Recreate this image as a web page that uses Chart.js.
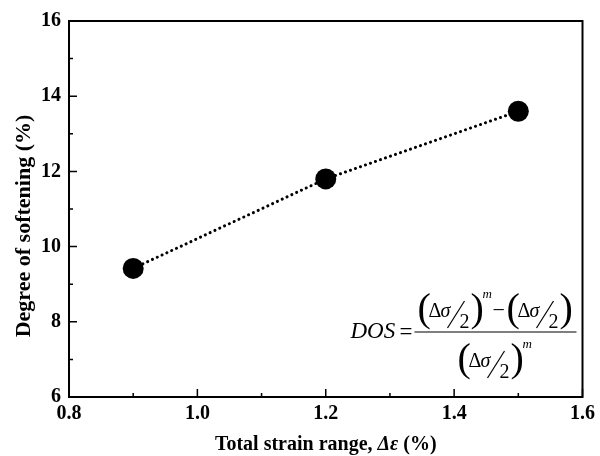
<!DOCTYPE html>
<html>
<head>
<meta charset="utf-8">
<script src="https://cdn.jsdelivr.net/npm/chart.js@4"></script>
<style>
  html, body { margin: 0; padding: 0; background: #fff; }
  #wrap { width: 600px; height: 456px; }
</style>
</head>
<body>
<div id="wrap"><canvas id="dos"></canvas></div>
<script>
// values
const strainRange = [0.9, 1.2, 1.5];
const softening = [9.42, 11.8, 13.6];
const xMajor = [0.8, 1.0, 1.2, 1.4, 1.6];
const xMinor = [0.9, 1.1, 1.3, 1.5];
const yMajor = [6, 8, 10, 12, 14, 16];
const yMinor = [7, 9, 11, 13, 15];

const SERIF = "'Liberation Serif', 'Times New Roman', serif";

// box + inward ticks, like the origin-style frame
const frame = {
  id: 'frame',
  afterDraw(chart) {
    const { ctx, chartArea: a, scales: { x, y } } = chart;
    ctx.save();
    ctx.strokeStyle = '#000';
    ctx.lineWidth = 2;
    ctx.strokeRect(a.left, a.top, a.right - a.left, a.bottom - a.top);
    ctx.lineWidth = 1.5;
    ctx.beginPath();
    xMajor.forEach((v) => { const p = x.getPixelForValue(v); ctx.moveTo(p, a.bottom); ctx.lineTo(p, a.bottom - 8); });
    xMinor.forEach((v) => { const p = x.getPixelForValue(v); ctx.moveTo(p, a.bottom); ctx.lineTo(p, a.bottom - 4); });
    yMajor.forEach((v) => { const p = y.getPixelForValue(v); ctx.moveTo(a.left, p); ctx.lineTo(a.left + 8, p); });
    yMinor.forEach((v) => { const p = y.getPixelForValue(v); ctx.moveTo(a.left, p); ctx.lineTo(a.left + 4, p); });
    ctx.stroke();
    ctx.restore();
  },
};

// axis titles (mixed bold / bold italic)
const titles = {
  id: 'titles',
  afterDraw(chart) {
    const { ctx, chartArea: a } = chart;
    ctx.save();
    ctx.fillStyle = '#000';
    ctx.textBaseline = 'alphabetic';
    const parts = [
      ['bold 20px ' + SERIF, 'Total strain range, '],
      ['bold italic 20px ' + SERIF, '\u0394\u03b5'],
      ['bold 20px ' + SERIF, ' (%)'],
    ];
    let w = 0;
    parts.forEach(([f, t]) => { ctx.font = f; w += ctx.measureText(t).width; });
    let cx = (a.left + a.right) / 2 - w / 2;
    parts.forEach(([f, t]) => { ctx.font = f; ctx.fillText(t, cx, 450); cx += ctx.measureText(t).width; });

    ctx.translate(24, 226);
    ctx.rotate(-Math.PI / 2);
    ctx.font = 'bold 22px ' + SERIF;
    ctx.textAlign = 'center';
    ctx.textBaseline = 'middle';
    ctx.fillText('Degree of softening (%)', 0, 0);
    ctx.restore();
  },
};

// (Δσ/2) group with big parentheses; cy = vertical middle
function sigmaGroup(ctx, x0, cy, sup) {
  ctx.font = '40px ' + SERIF;
  ctx.textBaseline = 'middle';
  ctx.fillText('(', x0 - 1, cy);
  ctx.textBaseline = 'alphabetic';
  ctx.font = '20px ' + SERIF;
  ctx.fillText('\u0394', x0 + 10, cy + 7);
  ctx.font = 'italic 20px ' + SERIF;
  ctx.fillText('\u03c3', x0 + 22, cy + 7);
  ctx.lineWidth = 1.2;
  ctx.beginPath();
  ctx.moveTo(x0 + 29, cy + 18);
  ctx.lineTo(x0 + 46, cy - 9);
  ctx.stroke();
  ctx.font = '20px ' + SERIF;
  ctx.fillText('2', x0 + 41, cy + 18);
  ctx.font = '40px ' + SERIF;
  ctx.textBaseline = 'middle';
  ctx.fillText(')', x0 + 52, cy);
  if (sup) {
    ctx.textBaseline = 'alphabetic';
    ctx.font = 'italic 13px ' + SERIF;
    ctx.fillText('m', x0 + 64, cy - 12);
  }
  ctx.textBaseline = 'alphabetic';
}

const formula = {
  id: 'formula',
  afterDraw(chart) {
    const { ctx, chartArea: a } = chart;
    const barY = a.bottom - 65;
    const barL = a.right - 168;
    ctx.save();
    ctx.fillStyle = '#000';
    ctx.strokeStyle = '#000';
    ctx.font = 'italic 23px ' + SERIF;
    ctx.textAlign = 'left';
    ctx.fillText('DOS', barL - 64, barY + 6);
    ctx.font = '23px ' + SERIF;
    ctx.fillText('=', barL - 15, barY + 7);
    ctx.lineWidth = 1.2;
    ctx.beginPath();
    ctx.moveTo(barL, barY);
    ctx.lineTo(a.right - 6, barY);
    ctx.stroke();
    sigmaGroup(ctx, barL + 4, barY - 22, true);
    ctx.font = '22px ' + SERIF;
    ctx.fillText('\u2212', barL + 78, barY - 15);
    sigmaGroup(ctx, barL + 93, barY - 22, false);
    sigmaGroup(ctx, barL + 44, barY + 28, true);
    ctx.restore();
  },
};

new Chart(document.getElementById('dos'), {
  type: 'scatter',
  data: {
    datasets: [{
      data: strainRange.map((v, i) => ({ x: v, y: softening[i] })),
      showLine: true,
      borderColor: '#000',
      borderWidth: 3,
      borderDash: [0.1, 5.2],
      borderCapStyle: 'round',
      backgroundColor: '#000',
      pointRadius: 10.5,
      pointBorderWidth: 0,
      pointBackgroundColor: '#000',
    }],
  },
  options: {
    responsive: true,
    maintainAspectRatio: false,
    animation: false,
    devicePixelRatio: 1,
    layout: { padding: { top: 21, right: 14, left: 0, bottom: 0 } },
    plugins: { legend: { display: false }, tooltip: { enabled: false } },
    scales: {
      x: {
        type: 'linear',
        min: 0.8,
        max: 1.6,
        grid: { display: false, drawTicks: false },
        border: { display: false },
        afterBuildTicks: (s) => { s.ticks = xMajor.map((v) => ({ value: v })); },
        afterFit: (s) => { s.height = 59; },
        ticks: {
          padding: 5,
          color: '#000',
          font: { family: SERIF, size: 20, weight: 'bold' },
          callback: (v) => Number(v).toFixed(1),
        },
      },
      y: {
        type: 'linear',
        min: 6,
        max: 16,
        grid: { display: false, drawTicks: false },
        border: { display: false },
        afterBuildTicks: (s) => { s.ticks = yMajor.map((v) => ({ value: v })); },
        afterFit: (s) => { s.width = 69; },
        ticks: {
          padding: 8,
          color: '#000',
          font: { family: SERIF, size: 20, weight: 'bold' },
        },
      },
    },
  },
  plugins: [frame, titles, formula],
});
</script>
</body>
</html>
